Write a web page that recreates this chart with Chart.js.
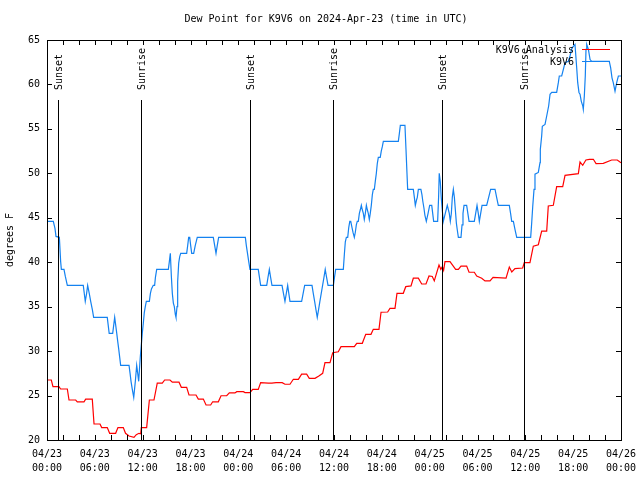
<!DOCTYPE html>
<html>
<head>
<meta charset="utf-8">
<script src="https://cdn.jsdelivr.net/npm/chart.js@4.4.1/dist/chart.umd.min.js"></script>
<style>
  html, body { margin: 0; padding: 0; background: #ffffff; }
  #wrap { width: 640px; height: 480px; }
</style>
</head>
<body>
<div id="wrap"><canvas id="c" width="640" height="480"></canvas></div>
<script>
// ---- data (hours since 2024-04-23 00:00 UTC, degrees F) ----
const chartTitle = "Dew Point for K9V6 on 2024-Apr-23 (time in UTC)";
const yAxisTitle = "degrees F";
const seriesNames = ["K9V6 Analysis", "K9V6"];

const tickDates = ["04/23","04/23","04/23","04/23","04/24","04/24","04/24","04/24","04/25","04/25","04/25","04/25","04/26"];
const tickTimes = ["00:00","06:00","12:00","18:00","00:00","06:00","12:00","18:00","00:00","06:00","12:00","18:00","00:00"];

const sunEventHours = [1.42, 11.83, 25.52, 35.9, 49.58, 59.85];
const sunEventLabels = ["Sunset","Sunrise","Sunset","Sunrise","Sunset","Sunrise"];

const anaHours = [0.0,0.54,0.75,1.5,1.71,2.55,2.76,3.6,3.8,4.64,4.85,5.68,5.9,6.65,6.86,7.56,7.86,8.61,8.9,9.57,9.85,10.29,10.91,11.2,11.54,11.75,11.83,12.5,12.84,13.42,13.83,14.46,14.76,15.43,15.72,16.56,16.85,17.52,17.81,18.69,18.98,19.61,19.95,20.53,20.78,21.49,21.83,22.54,22.87,23.58,23.8,24.63,24.84,25.46,25.8,26.5,26.8,27.76,28.2,28.73,29.5,29.85,30.48,30.9,31.53,31.94,32.57,32.9,33.62,34.1,34.58,34.87,35.5,35.84,36.54,36.88,38.55,38.85,39.55,39.98,40.64,40.93,41.64,41.9,42.73,43.02,43.65,43.9,44.69,45.0,45.66,45.95,46.58,47.0,47.54,47.92,48.33,48.58,49.17,49.4,49.59,49.75,49.92,50.55,51.26,51.6,51.93,52.64,52.94,53.6,53.9,54.53,54.94,55.57,55.95,57.58,57.99,58.3,58.7,59.67,59.87,60.58,61.0,61.63,62.05,62.68,62.88,63.51,63.93,64.69,64.98,66.65,66.86,67.2,67.6,68.03,68.53,68.87,69.78,70.83,71.53,71.87,72.0];
const anaDew = [26.75,26.75,26.0,26.0,25.74,25.74,24.5,24.5,24.3,24.3,24.6,24.6,21.8,21.8,21.4,21.4,20.75,20.75,21.4,21.4,20.75,20.45,20.3,20.6,20.75,20.7,21.4,21.4,24.5,24.5,26.4,26.4,26.75,26.75,26.5,26.5,25.93,25.93,25.06,25.06,24.6,24.6,23.94,23.94,24.3,24.3,24.98,24.98,25.3,25.3,25.44,25.44,25.33,25.33,25.7,25.7,26.45,26.4,26.4,26.45,26.45,26.27,26.27,26.83,26.83,27.4,27.4,26.94,26.94,27.2,27.5,28.7,28.7,29.82,29.93,30.5,30.5,30.88,30.88,31.89,31.89,32.45,32.45,34.37,34.4,34.8,34.8,36.5,36.5,37.25,37.33,38.2,38.2,37.55,37.55,38.45,38.4,37.9,39.69,39.2,39.5,39.1,40.06,40.06,39.2,39.2,39.56,39.56,38.87,38.87,38.45,38.2,37.9,37.9,38.3,38.2,39.46,38.9,39.28,39.35,39.95,39.95,41.8,41.97,43.5,43.5,46.33,46.4,48.5,48.5,49.78,49.96,51.27,50.9,51.5,51.58,51.58,51.1,51.13,51.5,51.5,51.27,51.2];

const obsHours = [0.0,0.79,1.0,1.13,1.55,1.71,1.8,2.13,2.3,2.55,4.55,4.8,4.97,5.1,5.3,5.48,5.7,5.85,7.56,7.8,8.24,8.49,8.62,8.75,8.87,9.0,9.12,9.24,10.29,10.42,10.54,10.7,10.88,11.08,11.25,11.38,11.5,11.7,11.85,11.95,12.08,12.2,12.33,12.46,12.84,12.97,13.1,13.33,13.5,13.6,13.76,15.22,15.35,15.47,15.6,15.72,15.85,15.97,16.1,16.18,16.31,16.39,16.52,16.64,16.77,17.52,17.65,17.77,17.9,18.02,18.15,18.4,18.6,18.85,20.86,21.03,21.2,21.36,21.53,24.88,25.0,25.15,25.3,25.46,26.5,26.65,26.8,27.56,27.72,27.89,28.05,28.22,29.48,29.66,29.85,30.02,30.19,30.33,30.48,31.94,32.13,32.32,33.24,33.4,33.57,33.73,33.9,34.07,34.23,34.4,34.57,34.74,34.9,35.07,35.25,35.92,36.06,36.21,37.17,37.3,37.42,37.55,37.72,37.85,37.98,38.1,38.26,38.4,38.55,38.68,38.8,38.92,39.05,39.18,39.3,39.43,39.55,39.68,39.8,39.93,40.06,40.18,40.3,40.43,40.55,40.68,40.81,40.93,41.06,41.18,41.31,41.43,41.56,41.8,41.93,42.06,42.19,44.07,44.2,44.32,44.9,45.03,45.15,45.24,45.95,46.08,46.2,46.35,46.45,46.58,46.9,47.03,47.15,47.28,47.4,47.58,47.8,48.0,48.26,48.38,48.5,49.0,49.12,49.2,49.33,49.45,49.58,49.71,49.96,50.21,50.46,50.59,50.72,50.84,50.97,51.1,51.22,51.35,51.47,51.6,51.93,52.06,52.18,52.31,52.64,52.79,52.94,53.6,53.77,53.94,54.1,54.23,54.4,54.57,55.15,55.4,55.65,56.2,56.4,56.61,57.99,58.15,58.29,58.5,58.7,58.92,60.67,60.8,60.93,61.09,61.21,61.63,61.84,61.88,62.05,62.13,62.47,62.68,62.93,63.1,63.31,63.93,64.14,64.26,64.56,64.77,64.98,65.39,65.6,65.85,66.23,66.44,66.57,66.73,66.86,67.02,67.2,67.27,67.4,67.52,67.61,67.7,67.91,68.12,68.33,70.53,70.7,70.87,71.03,71.25,71.46,71.67,72.0];
const obsDew = [44.6,44.6,43.8,42.9,42.8,40.1,39.2,39.2,38.4,37.4,37.4,35.6,36.5,37.4,36.5,35.6,34.6,33.8,33.8,32.0,32.0,33.8,32.9,32.0,31.1,30.2,29.3,28.4,28.4,27.5,26.6,25.7,24.8,26.6,28.4,27.5,26.6,29.3,30.9,32.0,33.1,34.3,35.0,35.6,35.6,36.5,37.0,37.4,37.4,38.3,39.2,39.2,40.1,41.0,38.4,36.5,35.4,35.0,34.1,33.8,35.0,37.8,39.9,40.6,41.0,41.0,41.9,42.8,42.8,41.9,41.0,41.0,41.9,42.8,42.8,41.9,41.0,41.9,42.8,42.8,41.9,41.0,40.1,39.2,39.2,38.3,37.4,37.4,38.3,39.2,38.3,37.4,37.4,36.5,35.6,36.5,37.4,36.5,35.6,35.6,36.5,37.4,37.4,36.5,35.6,34.7,33.8,34.7,35.6,36.5,37.4,38.3,39.2,38.3,37.4,37.4,38.3,39.2,39.2,40.9,42.3,42.8,42.8,43.9,44.6,44.6,43.9,43.3,42.8,43.4,44.2,44.6,44.6,45.5,45.9,46.4,45.9,45.5,44.8,45.5,46.4,45.9,45.5,44.8,45.5,46.4,47.6,48.2,48.2,49.1,50.0,51.1,51.8,51.8,52.5,53.0,53.6,53.6,54.5,55.4,55.4,52.7,50.1,48.2,48.2,47.3,46.4,47.0,47.3,48.2,48.2,47.6,46.8,46.1,45.3,44.6,45.5,46.4,46.4,45.5,44.6,44.6,47.3,50.0,49.1,47.3,45.9,44.6,45.5,46.4,45.5,44.6,45.5,47.3,48.2,47.3,45.9,44.4,43.6,42.8,42.8,44.2,45.5,46.4,46.4,45.5,44.6,44.6,45.5,46.4,45.5,44.6,45.5,46.4,46.4,47.3,48.2,48.2,47.3,46.4,46.4,45.5,44.6,44.6,43.7,42.8,42.8,44.45,46.3,48.2,49.9,50.1,51.2,52.7,54.2,55.3,55.5,56.45,57.6,58.9,59.1,59.1,60.2,60.95,60.95,61.7,62.45,62.6,63.2,64.1,64.5,61.9,60.2,59.1,58.9,58.1,57.6,57.2,58.7,60.95,63.95,64.5,63.95,62.8,62.6,62.6,61.9,60.75,60.2,59.25,60.2,60.95,60.95];

const xMin = 0, xMax = 72, xLabelStep = 6, xMinorStep = 2;
const yMin = 20, yMax = 65, yStep = 5;

// ---- build ----
const FONT = "DejaVu Sans Mono";
Chart.defaults.font.family = FONT;
Chart.defaults.font.size = 10;
Chart.defaults.color = "#000000";

const toPts = (hs, vs) => hs.map((h, i) => ({ x: h, y: vs[i] }));

const decor = {
  id: "decor",
  afterDatasetsDraw(chart) {
    const ctx = chart.ctx;
    const a = chart.chartArea;
    const xs = chart.scales.x, ys = chart.scales.y;
    ctx.save();
    ctx.strokeStyle = "#000000";
    ctx.lineWidth = 1;
    ctx.font = "10px '" + FONT + "'";
    ctx.fillStyle = "#000000";
    // sunrise / sunset lines
    sunEventHours.forEach((h, i) => {
      const px = Math.round(xs.getPixelForValue(h)) + 0.5;
      ctx.beginPath();
      ctx.moveTo(px, a.top + 60);
      ctx.lineTo(px, a.bottom);
      ctx.stroke();
      ctx.save();
      ctx.translate(px + 1, a.top + 50);
      ctx.rotate(-Math.PI / 2);
      ctx.textAlign = "left";
      ctx.textBaseline = "middle";
      ctx.fillText(sunEventLabels[i], 0, 0);
      ctx.restore();
    });
    // border
    ctx.strokeRect(Math.round(a.left) + 0.5, Math.round(a.top) + 0.5,
                   Math.round(a.right - a.left), Math.round(a.bottom - a.top));
    // ticks inward
    const tl = 5;
    for (let h = xMin; h <= xMax; h += xMinorStep) {
      const px = Math.round(xs.getPixelForValue(h)) + 0.5;
      ctx.beginPath();
      ctx.moveTo(px, a.bottom); ctx.lineTo(px, a.bottom - tl);
      ctx.moveTo(px, a.top); ctx.lineTo(px, a.top + tl);
      ctx.stroke();
    }
    for (let v = yMin; v <= yMax; v += yStep) {
      const py = Math.round(ys.getPixelForValue(v)) + 0.5;
      ctx.beginPath();
      ctx.moveTo(a.left, py); ctx.lineTo(a.left + tl, py);
      ctx.moveTo(a.right, py); ctx.lineTo(a.right - tl, py);
      ctx.stroke();
    }
    // x tick labels (two lines)
    ctx.textAlign = "center";
    ctx.textBaseline = "middle";
    for (let i = 0; i < tickDates.length; i++) {
      const px = xs.getPixelForValue(xMin + i * xLabelStep);
      ctx.fillText(tickDates[i], px, a.bottom + 14);
      ctx.fillText(tickTimes[i], px, a.bottom + 28);
    }
    // title
    ctx.fillText(chartTitle, 326, 19);
    // y axis title
    ctx.save();
    ctx.translate(10, (a.top + a.bottom) / 2);
    ctx.rotate(-Math.PI / 2);
    ctx.fillText(yAxisTitle, 0, 0);
    ctx.restore();
    // legend
    const colors = ["#ff0000", "#1482f0"];
    seriesNames.forEach((name, i) => {
      const ly = a.top + 10 + i * 12;
      ctx.textAlign = "right";
      ctx.fillStyle = "#000000";
      ctx.fillText(name, 574, ly);
      ctx.strokeStyle = colors[i];
      ctx.beginPath();
      ctx.moveTo(582, Math.round(ly) - 0.5);
      ctx.lineTo(610, Math.round(ly) - 0.5);
      ctx.stroke();
    });
    ctx.restore();
  }
};

new Chart(document.getElementById("c"), {
  type: "line",
  data: {
    datasets: [
      { label: seriesNames[0], data: toPts(anaHours, anaDew), borderColor: "#ff0000",
        borderWidth: 1.2, pointRadius: 0, tension: 0, fill: false },
      { label: seriesNames[1], data: toPts(obsHours, obsDew), borderColor: "#1482f0",
        borderWidth: 1.2, pointRadius: 0, tension: 0, fill: false }
    ]
  },
  options: {
    responsive: false,
    animation: false,
    devicePixelRatio: 1,
    layout: { padding: { top: 40, right: 19, left: 0, bottom: 0 } },
    plugins: { legend: { display: false }, title: { display: false }, tooltip: { enabled: false } },
    scales: {
      x: {
        type: "linear", min: xMin, max: xMax,
        grid: { display: false, drawTicks: false },
        border: { display: false },
        ticks: { display: false, stepSize: xLabelStep },
        afterFit: (s) => { s.height = 40; }
      },
      y: {
        min: yMin, max: yMax,
        grid: { display: false, drawTicks: false },
        border: { display: false },
        ticks: { stepSize: yStep, padding: 7, color: "#000000", font: { family: FONT, size: 10 } },
        afterFit: (s) => { s.width = 47; }
      }
    }
  },
  plugins: [decor]
});
</script>
</body>
</html>
